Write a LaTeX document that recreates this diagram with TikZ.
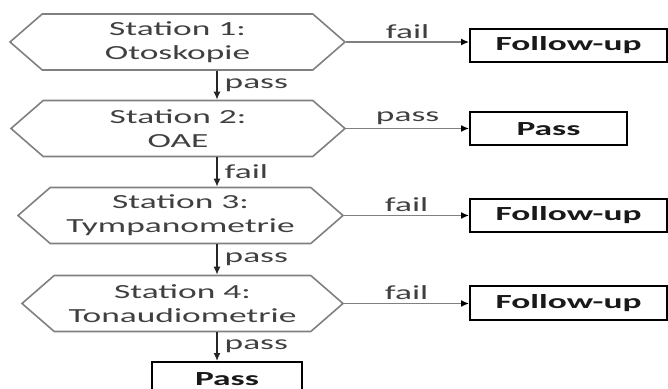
\documentclass[tikz,border=0pt]{standalone}
\usepackage{fontspec}
\setmainfont{Carlito}[FakeStretch=1.77]
\usetikzlibrary{shapes.symbols,arrows.meta}

\begin{document}
\begin{tikzpicture}[x=0.5pt,y=-0.5pt,
	every node/.style={font=\fontsize{10}{12}\selectfont},
	station/.style={shape=signal, signal to=west and east, signal pointer angle=82, draw=black!50, line width=0.8pt, text=black!75, align=center, inner sep=0pt, minimum height=28pt},
	result/.style={draw=black, line width=1pt, font=\fontsize{10}{12}\selectfont\bfseries, text=black!90, inner sep=0pt, minimum height=16.5pt},
	down/.style={draw=black!85, line width=0.7pt, -{Latex[length=4pt,width=3.5pt]}},
	side/.style={draw=black!50, line width=0.7pt, -{Latex[length=4pt,width=3.5pt,black]}},
	lbl/.style={text=black!75, inner sep=1.5pt}]
	\useasboundingbox (0,0) rectangle (668,389);
	\coordinate (col) at (217,0);
	\node[station, minimum width=167.5pt] (s1) at (177.5,42) {Station 1:\\Otoskopie};
	\node[station, minimum width=167pt] (s2) at (178,128.5) {Station 2:\\OAE};
	\node[station, minimum width=162.5pt] (s3) at (180.5,215.5) {Station 3:\\Tympanometrie};
	\node[station, minimum width=160.5pt] (s4) at (182.5,303.5) {Station 4:\\Tonaudiometrie};
	\node[result, minimum width=98.5pt] (f1) at (568.5,45.5) {Follow-up};
	\node[result, minimum width=78.5pt] (p2) at (548.5,129) {Pass};
	\node[result, minimum width=98.5pt] (f3) at (568.5,215.5) {Follow-up};
	\node[result, minimum width=98.5pt] (f4) at (568.5,303) {Follow-up};
	\node[result, minimum width=75pt, minimum height=17pt] (p5) at (227,379) {Pass};
	\draw[down] (s1.south -| col) -- (s2.north -| col) node[lbl, midway, right, xshift=2pt] {pass};
	\draw[down] (s2.south -| col) -- (s3.north -| col) node[lbl, midway, right, xshift=2pt] {fail};
	\draw[down] (s3.south -| col) -- (s4.north -| col) node[lbl, midway, right, xshift=2pt] {pass};
	\draw[down] (s4.south -| col) -- (p5.north -| col) node[lbl, midway, right, xshift=2pt] {pass};
	\draw[side] (s1.east) -- (f1.west |- s1.east) node[lbl, midway, above] {fail};
	\draw[side] (s2.east) -- (p2.west |- s2.east) node[lbl, midway, above] {pass};
	\draw[side] (s3.east) -- (f3.west |- s3.east) node[lbl, midway, above] {fail};
	\draw[side] (s4.east) -- (f4.west |- s4.east) node[lbl, midway, above] {fail};
\end{tikzpicture}
\end{document}
